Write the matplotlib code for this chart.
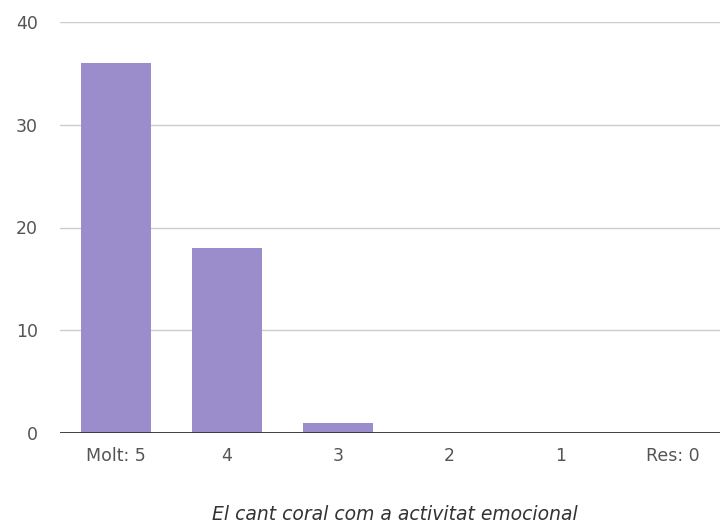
import matplotlib
matplotlib.use("Agg")
import matplotlib.pyplot as plt

plt.rcParams['font.family'] = ['DejaVu Sans']

categories = ['Molt: 5', '4', '3', '2', '1', 'Res: 0']
counts = [36, 18, 1, 0, 0, 0]
yticks = [0, 10, 20, 30, 40]

fig = plt.figure(figsize=(7.2, 5.29), dpi=100)
ax = fig.add_axes([60/720, 96/529, 668/720, 411/529])

x = range(len(categories))
ax.bar(x, counts, width=0.63, color='#9b8ccc', zorder=3)

ax.set_xlim(-0.5, len(categories) - 0.5)
ax.set_ylim(0, 40)
ax.set_yticks(yticks)
ax.set_xticks(list(x))
ax.set_xticklabels(categories)

# gridlines and dark baseline
ax.grid(axis='y', color='#cccccc', linewidth=1, zorder=0)
ax.axhline(0, color='#333333', linewidth=1.3, zorder=4)
for s in ax.spines.values():
    s.set_visible(False)
ax.tick_params(axis='both', length=0, labelsize=12.5, labelcolor='#555555')
ax.tick_params(axis='y', pad=16)
ax.tick_params(axis='x', pad=10)

fig.text(395/720, 1 - 515/529, 'El cant coral com a activitat emocional',
         ha='center', va='center', fontsize=13.5, style='italic', color='#333333')

fig.savefig('out.png', dpi=100)
